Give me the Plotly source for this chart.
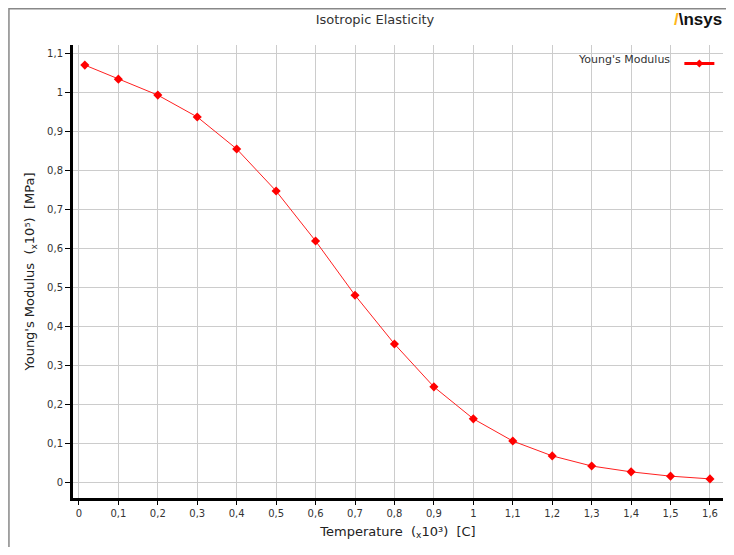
import plotly.graph_objects as go

temperature = [0.015, 0.1, 0.2, 0.3, 0.4, 0.5, 0.6, 0.7, 0.8, 0.9, 1.0, 1.1, 1.2, 1.3, 1.4, 1.5, 1.6]
youngs_modulus = [1.069, 1.033, 0.992, 0.936, 0.854, 0.746, 0.618, 0.479, 0.354, 0.244,
                  0.162, 0.105, 0.067, 0.041, 0.026, 0.015, 0.008]
x_ticks = [0, 0.1, 0.2, 0.3, 0.4, 0.5, 0.6, 0.7, 0.8, 0.9, 1.0, 1.1, 1.2, 1.3, 1.4, 1.5, 1.6]
y_ticks = [0, 0.1, 0.2, 0.3, 0.4, 0.5, 0.6, 0.7, 0.8, 0.9, 1.0, 1.1]

FONT = "DejaVu Sans"
W, H = 726, 539
ML, MR, MT, MB = 65, 9, 37, 49
PW, PH = W - ML - MR, H - MT - MB

fig = go.Figure()
fig.add_trace(go.Scatter(
    x=temperature, y=youngs_modulus, mode="lines+markers", name="Young's Modulus",
    line=dict(color="#ff2020", width=1),
    marker=dict(symbol="diamond", size=7, color="#ff0000"),
    showlegend=False,
))
# legend glyph only (no data)
fig.add_trace(go.Scatter(
    x=[None], y=[None], mode="lines+markers", name="",
    line=dict(color="#ff0000", width=3),
    marker=dict(symbol="diamond", size=6, color="#ff0000"),
    showlegend=True, hoverinfo="skip",
))

fig.update_layout(
    width=W, height=H,
    margin=dict(l=ML, r=MR, t=MT, b=MB),
    paper_bgcolor="white", plot_bgcolor="white",
    separators=",.",
    font=dict(family=FONT, size=10, color="#333333"),
    title=dict(text="Isotropic Elasticity", x=(375 - 8) / W, xanchor="center", y=1 - 11 / H, yanchor="middle",
               font=dict(family=FONT, size=13, color="#333333")),
    showlegend=True,
    legend=dict(x=1 + 2 / PW, xanchor="right", y=1 - 4 / PH, yanchor="top",
                bgcolor="rgba(0,0,0,0)",
                title=dict(text="Young's Modulus", side="left", font=dict(family=FONT, size=11, color="#333333")),
                font=dict(size=9), itemwidth=30),
    xaxis=dict(range=[-0.015, 1.633], tickvals=x_ticks, showgrid=True, gridcolor="#cccccc", gridwidth=1,
               zeroline=False, showline=True, linecolor="black", linewidth=3,
               ticks="outside", ticklen=4, tickcolor="black",
               tickfont=dict(family=FONT, size=10, color="#333333"),
               title=dict(text="Temperature  (<sub>x</sub>10³)  [C]", standoff=9,
                          font=dict(family=FONT, size=13, color="#222222"))),
    yaxis=dict(range=[-0.041, 1.1205], tickvals=y_ticks, showgrid=True, gridcolor="#cccccc", gridwidth=1,
               zeroline=False, showline=True, linecolor="black", linewidth=3,
               ticks="outside", ticklen=5, tickcolor="black",
               tickfont=dict(family=FONT, size=10, color="#333333"),
               title=dict(text="Young's Modulus  (<sub>x</sub>10⁵)  [MPa]", standoff=10,
                          font=dict(family=FONT, size=13, color="#222222"))),
)

# outer frame
fig.add_shape(type="rect", xref="paper", yref="paper",
              x0=-ML / PW + 0.75 / PW, x1=1 + (MR + 20) / PW, y0=-(MB + 20) / PH, y1=1 + (MT - 0.75) / PH,
              line=dict(color="#888888", width=1.5), fillcolor="rgba(0,0,0,0)", layer="below")

# Ansys logo
fig.add_annotation(xref="paper", yref="paper", x=1 + 1 / PW, y=1 + (MT - 12) / PH,
                   xanchor="right", yanchor="middle", showarrow=False,
                   text="<b><span style='color:#ffb71b'>/</span>\\nsys</b>",
                   font=dict(family="Liberation Sans", size=17, color="#111111"))

fig.write_html("out.html")
